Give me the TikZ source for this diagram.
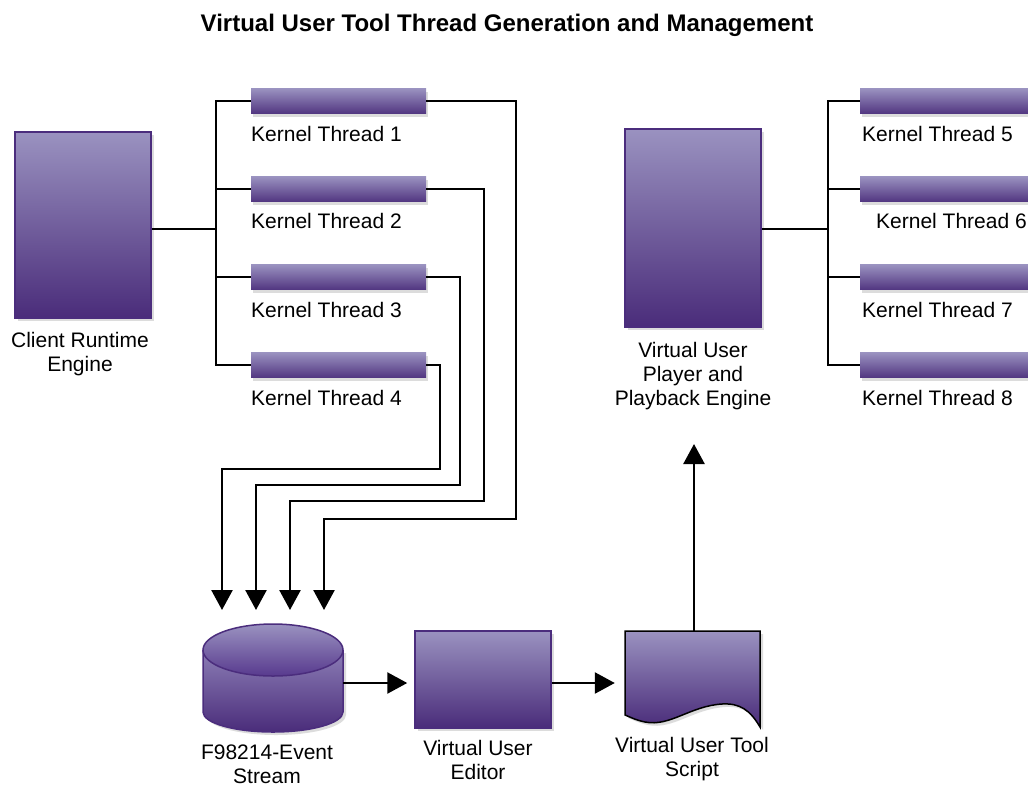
\documentclass[tikz,border=0pt]{standalone}
\usepackage{fontspec}
\setmainfont{Liberation Sans}
\usetikzlibrary{arrows.meta,shadows,calc}
\definecolor{gtop}{RGB}{154,146,192}
\definecolor{gbot}{RGB}{74,44,122}
\definecolor{gmid}{RGB}{140,126,182}
\definecolor{edark}{RGB}{88,58,142}
\definecolor{pborder}{RGB}{75,45,125}
\definecolor{shadowgray}{RGB}{220,220,220}
\begin{document}
\begin{tikzpicture}[x=1pt,y=-1pt,
  box/.style={draw=pborder, line width=1.5pt, top color=gtop, bottom color=gbot, inner sep=0pt,
    general shadow={fill=shadowgray, draw=none, shadow xshift=3pt, shadow yshift=-3pt}},
  bar/.style={draw=none, top color=gtop, bottom color=gbot!90!gtop, inner sep=0pt, minimum height=25pt,
    general shadow={fill=shadowgray, draw=none, shadow xshift=2pt, shadow yshift=-3pt}},
  conn/.style={line width=2.2pt},
  arr/.style={line width=2.5pt, -{Triangle[length=20pt,width=21pt]}},
  lbl/.style={font=\fontsize{21}{24}\selectfont, align=center, inner sep=0pt, anchor=north},
  klbl/.style={font=\fontsize{21}{24}\selectfont, inner sep=0pt, anchor=base west},
  holder/.style={inner sep=0pt, draw=none}
]
\useasboundingbox (0,0) rectangle (1028,788);
\fill[white] (0,0) rectangle (1028,788);
\clip (0,0) rectangle (1028,788);

% title
\node[font=\bfseries\fontsize{24}{28}\selectfont, anchor=base, inner sep=0pt] (title) at (507,31)
  {Virtual User Tool Thread Generation and Management};

% main boxes
\node[box, minimum width=136pt, minimum height=186pt] (cre) at (83,225) {};
\node[box, minimum width=136pt, minimum height=198pt] (vup) at (693,228) {};
\node[box, minimum width=136pt, minimum height=97pt] (ed) at (483,679.5) {};

% kernel thread bars
\node[bar, minimum width=175pt] (k1) at (338.5,101) {};
\node[bar, minimum width=175pt] (k2) at (338.5,189) {};
\node[bar, minimum width=175pt] (k3) at (338.5,277) {};
\node[bar, minimum width=175pt] (k4) at (338.5,365) {};
\node[bar, minimum width=180pt] (k5) at (950,101) {};
\node[bar, minimum width=180pt] (k6) at (950,189) {};
\node[bar, minimum width=180pt] (k7) at (950,277) {};
\node[bar, minimum width=180pt] (k8) at (950,365) {};

% labels
\node[lbl] (crel) at (80,332) {Client Runtime\\Engine};
\node[lbl] (vupl) at (693,342) {Virtual User\\Player and\\Playback Engine};
\node[klbl] (k1l) at (251,141) {Kernel Thread 1};
\node[klbl] (k2l) at (251,228) {Kernel Thread 2};
\node[klbl] (k3l) at (251,317) {Kernel Thread 3};
\node[klbl] (k4l) at (251,405) {Kernel Thread 4};
\node[klbl] (k5l) at (862,141) {Kernel Thread 5};
\node[klbl] (k6l) at (876,228) {Kernel Thread 6};
\node[klbl] (k7l) at (862,317) {Kernel Thread 7};
\node[klbl] (k8l) at (862,405) {Kernel Thread 8};
\node[lbl] (dbl) at (267,745) {F98214-Event\\Stream};
\node[lbl] (edl) at (478,740) {Virtual User\\Editor};
\node[lbl] (docl) at (692,737) {Virtual User Tool\\Script};

% database cylinder
\node[holder, minimum width=140pt, minimum height=108pt] (db) at (273,678) {};
\fill[shadowgray] (206,653) -- (206,715) arc[start angle=180, end angle=0, x radius=70, y radius=20] -- (346,653) -- cycle;
\shade[top color=gmid, bottom color=gbot] (203,650) -- (203,712) arc[start angle=180, end angle=0, x radius=70, y radius=20] -- (343,650) -- cycle;
\draw[pborder, line width=1.5pt] (203,650) -- (203,712) arc[start angle=180, end angle=0, x radius=70, y radius=20] -- (343,650);
\shade[top color=gtop, bottom color=edark] (273,650) ellipse [x radius=70, y radius=26];
\draw[pborder, line width=1.5pt] (273,650) ellipse [x radius=70, y radius=26];

% script document
\node[holder, minimum width=135pt, minimum height=96pt] (doc) at (692.5,679) {};
\fill[shadowgray] (628,634) -- (763,634) -- (763,730)
  .. controls (753,713) and (743,706) .. (725,707)
  .. controls (693,709) and (673,730) .. (648,725)
  .. controls (638,723) and (631,719) .. (628,718) -- cycle;
\shade[top color=gtop, bottom color=gbot, draw=black, line width=1.5pt] (625,631) -- (760,631) -- (760,727)
  .. controls (750,710) and (740,703) .. (722,704)
  .. controls (690,706) and (670,727) .. (645,722)
  .. controls (635,720) and (628,716) .. (625,715) -- cycle;

% buses
\coordinate (busL) at (216,229);
\draw[conn] (cre.east |- busL) -- (busL);
\draw[conn] (k1.west) -| (busL);
\draw[conn] (k4.west) -| (busL);
\draw[conn] (k2.west) -- (k2.west -| busL);
\draw[conn] (k3.west) -- (k3.west -| busL);

\coordinate (busR) at (828,229);
\draw[conn] (vup.east |- busR) -- (busR);
\draw[conn] (k5.west) -| (busR);
\draw[conn] (k8.west) -| (busR);
\draw[conn] (k6.west) -- (k6.west -| busR);
\draw[conn] (k7.west) -- (k7.west -| busR);

% threads into event stream
\coordinate (t1) at (222,610);
\coordinate (t2) at (256,610);
\coordinate (t3) at (290,610);
\coordinate (t4) at (324,610);
\draw[arr] (k4.east) -| (440,469) -| (t1);
\draw[arr] (k3.east) -| (460,485) -| (t2);
\draw[arr] (k2.east) -| (484,501) -| (t3);
\draw[arr] (k1.east) -| (516,519) -| (t4);

% flow along the bottom
\coordinate (m1) at (0,683);
\draw[arr, shorten >=7pt] (db.east |- m1) -- (ed.west |- m1);
\draw[arr, shorten >=10pt] (ed.east |- m1) -- (doc.west |- m1);
\coordinate (tp) at (694,444);
\draw[arr] (doc.north -| tp) -- (tp);
\end{tikzpicture}
\end{document}
